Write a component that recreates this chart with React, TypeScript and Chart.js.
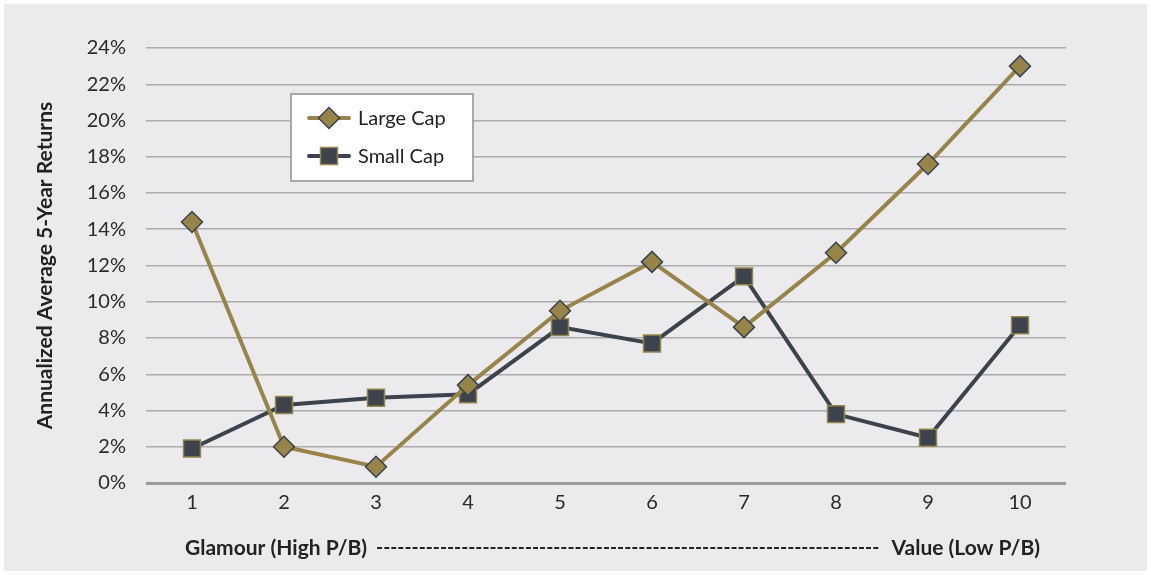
import React, { useEffect, useRef } from "react";
import { Chart, registerables } from "chart.js";
Chart.register(...registerables);

const categories = ["1", "2", "3", "4", "5", "6", "7", "8", "9", "10"];
const largeCap = [14.4, 2.0, 0.9, 5.4, 9.5, 12.2, 8.6, 12.7, 17.6, 23.0];
const smallCap = [1.9, 4.3, 4.7, 4.9, 8.6, 7.7, 11.4, 3.8, 2.5, 8.7];
const seriesNames = ["Large Cap", "Small Cap"];
const yMin = 0;
const yMax = 24;
const yStep = 2;
const yAxisTitle = "Annualized Average 5-Year Returns";
const xAxisLeft = "Glamour (High P/B)";
const xAxisRight = "Value (Low P/B)";

const GOLD = "#978448";
const DARK = "#3c434d";
const FONT = "Lato, 'Open Sans', sans-serif";

const overlayPlugin = {
  id: "overlay",
  afterDatasetsDraw(chart: any) {
    const ctx = chart.ctx;
    ctx.save();
    // Legend box
    const bx = 287, by = 90, bw = 182, bh = 87;
    ctx.fillStyle = "#ffffff";
    ctx.fillRect(bx, by, bw, bh);
    ctx.strokeStyle = "#a8a8a8";
    ctx.lineWidth = 2;
    ctx.strokeRect(bx, by, bw, bh);
    const rows = [
      { y: 114, color: GOLD, border: DARK, style: "diamond", label: seriesNames[0] },
      { y: 152, color: DARK, border: GOLD, style: "square", label: seriesNames[1] },
    ];
    rows.forEach((r) => {
      ctx.strokeStyle = r.color;
      ctx.lineWidth = 4;
      ctx.lineCap = "round";
      ctx.beginPath();
      ctx.moveTo(305, r.y);
      ctx.lineTo(345, r.y);
      ctx.stroke();
      const cx = 325;
      ctx.fillStyle = r.color;
      ctx.strokeStyle = r.border;
      ctx.lineWidth = 1.5;
      ctx.beginPath();
      if (r.style === "diamond") {
        ctx.moveTo(cx, r.y - 10.5);
        ctx.lineTo(cx + 10.5, r.y);
        ctx.lineTo(cx, r.y + 10.5);
        ctx.lineTo(cx - 10.5, r.y);
        ctx.closePath();
      } else {
        ctx.rect(cx - 8.5, r.y - 8.5, 17, 17);
      }
      ctx.fill();
      ctx.stroke();
      ctx.fillStyle = "#222";
      ctx.font = `20px ${FONT}`;
      ctx.textAlign = "left";
      ctx.textBaseline = "middle";
      ctx.fillText(r.label, 354, r.y + 1);
    });

    // Y axis title
    ctx.save();
    ctx.translate(41, (chart.chartArea.top + chart.chartArea.bottom) / 2);
    ctx.rotate(-Math.PI / 2);
    ctx.font = `bold 21px ${FONT}`;
    ctx.fillStyle = "#222";
    ctx.textAlign = "center";
    ctx.textBaseline = "middle";
    ctx.fillText(yAxisTitle, 0, 0);
    ctx.restore();

    // X axis title
    ctx.font = `bold 21px ${FONT}`;
    ctx.fillStyle = "#222";
    ctx.textBaseline = "middle";
    const leftX = 181, rightX = 1036, ty = 544;
    ctx.textAlign = "left";
    ctx.fillText(xAxisLeft, leftX, ty);
    ctx.textAlign = "right";
    ctx.fillText(xAxisRight, rightX, ty);
    const lw = ctx.measureText(xAxisLeft).width;
    const rw = ctx.measureText(xAxisRight).width;
    const gapStart = leftX + lw + 9;
    const gapEnd = rightX - rw - 6;
    ctx.font = `bold 19px ${FONT}`;
    const dashW = ctx.measureText("-").width;
    const n = Math.floor((gapEnd - gapStart) / dashW);
    ctx.textAlign = "left";
    ctx.fillText("-".repeat(n), gapStart, ty);
    ctx.restore();
  },
};

export default function App() {
  const ref = useRef<HTMLCanvasElement>(null);
  useEffect(() => {
    document.body.style.margin = "0";
    const canvas = ref.current!;
    const chart = new Chart(canvas, {
      type: "line",
      data: {
        labels: categories,
        datasets: [
          {
            label: seriesNames[0],
            data: largeCap,
            borderColor: GOLD,
            backgroundColor: GOLD,
            borderWidth: 4,
            pointStyle: "rectRot",
            pointRadius: 10.5,
            pointHoverRadius: 10.5,
            pointBackgroundColor: GOLD,
            pointBorderColor: DARK,
            pointBorderWidth: 1.5,
            tension: 0,
          },
          {
            label: seriesNames[1],
            data: smallCap,
            borderColor: DARK,
            backgroundColor: DARK,
            borderWidth: 4,
            pointStyle: "rect",
            pointRadius: 12,
            pointHoverRadius: 12,
            pointBackgroundColor: DARK,
            pointBorderColor: GOLD,
            pointBorderWidth: 1.5,
            tension: 0,
          },
        ],
      },
      options: {
        responsive: false,
        animation: false,
        layout: { padding: { left: 0, top: 44, right: 81, bottom: 0 } },
        plugins: { legend: { display: false }, tooltip: { enabled: false } },
        scales: {
          x: {
            offset: true,
            grid: { display: false, drawTicks: false },
            border: { display: false },
            ticks: { color: "#2a2a2a", font: { family: FONT, size: 20 }, padding: 8 },
            afterFit: (s: any) => { s.height = 88; },
          },
          y: {
            min: yMin,
            max: yMax,
            grid: {
              drawTicks: false,
              color: (c: any) => (c.tick && c.tick.value === 0 ? "#9a9a9a" : "#ababab"),
              lineWidth: (c: any) => (c.tick && c.tick.value === 0 ? 3 : 1.5),
            },
            border: { display: false },
            ticks: {
              stepSize: yStep,
              color: "#2a2a2a",
              font: { family: FONT, size: 20 },
              padding: 20,
              callback: (v: any) => `${v}%`,
            },
            afterFit: (s: any) => { s.width = 142; },
          },
        },
      },
      plugins: [overlayPlugin],
    });
    return () => chart.destroy();
  }, []);
  return (
    <div style={{ width: 1151, height: 575, background: "#ffffff", position: "relative" }}>
      <canvas
        ref={ref}
        width={1143}
        height={567}
        style={{ position: "absolute", left: 4, top: 4, width: 1143, height: 567, background: "#ebebed" }}
      />
    </div>
  );
}
